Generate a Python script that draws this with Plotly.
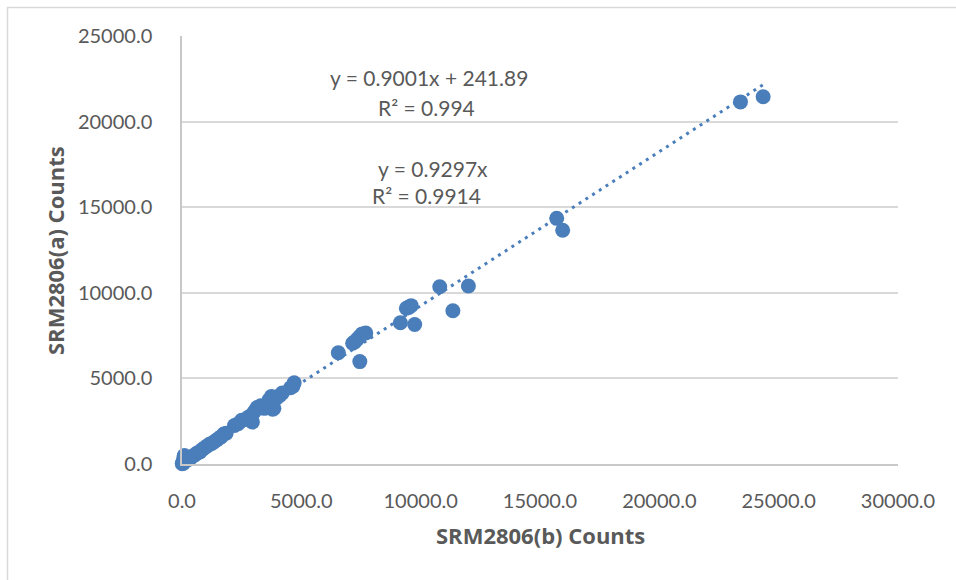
import plotly.graph_objects as go

# ---- data ----
x_counts = [24350, 23400, 15700, 15950, 10800, 12000, 11350, 9750, 9150, 9400, 9600, 9500,
            7550, 7450, 7350, 7250, 7150, 7700, 6550, 7450,
            4700, 4650, 4550, 4200, 4100, 3950, 3850, 3750, 3650, 3800, 3550, 3450, 3300, 3150,
            3050, 2950, 2950, 2800, 2650, 2500, 2350, 2200, 1850, 1750, 1650, 1550, 1450, 1350,
            1250, 1150, 1050, 950, 850, 750, 650, 550, 450, 350, 250, 150, 100, 60, 30, 10, 80]
y_counts = [21450, 21150, 14350, 13650, 10350, 10400, 8950, 8150, 8250, 9100, 9250, 9150,
            7600, 7450, 7300, 7150, 7050, 7650, 6500, 5980,
            4750, 4550, 4450, 4150, 4000, 3850, 3250, 3950, 3750, 3200, 3350, 3250, 3400, 3300,
            3100, 2900, 2450, 2750, 2600, 2550, 2350, 2250, 1800, 1750, 1600, 1500, 1400, 1300,
            1200, 1150, 1050, 950, 850, 700, 650, 550, 450, 350, 250, 200, 500, 50, 100, 20, 400]

fit_slope = 0.9001
fit_intercept = 241.89
eq_texts = ["y = 0.9001x + 241.89", "R² = 0.994", "y = 0.9297x", "R² = 0.9914"]
x_ticks = [0, 5000, 10000, 15000, 20000, 25000, 30000]
y_ticks = [0, 5000, 10000, 15000, 20000, 25000]
x_title = "SRM2806(b) Counts"
y_title = "SRM2806(a) Counts"

BLUE = "#4A7EBB"
GRAY_TXT = "#595959"
GRID = "#d9d9d9"
FONT = "Lato, Open Sans, sans-serif"
TITLE_FONT = "Open Sans, Lato, sans-serif"

fig = go.Figure()

x_line = [min(x_counts), max(x_counts)]
y_line = [fit_slope * v + fit_intercept for v in x_line]
fig.add_trace(go.Scatter(x=x_line, y=y_line, mode="lines",
                         line=dict(color=BLUE, width=3, dash="3px,5px"),
                         hoverinfo="skip", showlegend=False))

fig.add_trace(go.Scatter(x=x_counts, y=y_counts, mode="markers", cliponaxis=False,
                         marker=dict(color=BLUE, size=15, line=dict(width=0)),
                         showlegend=False))

W, H = 956, 580
L, R, T, B = 182, 898, 36, 464


def px2paper(px, py):
    return (px - L) / (R - L), (B - py) / (B - T)


annots = []
eq_pos = [(429, 78), (426, 107), (433, 168), (426, 195)]
for txt, (px, py) in zip(eq_texts, eq_pos):
    xp, yp = px2paper(px, py)
    annots.append(dict(x=xp, y=yp, xref="paper", yref="paper", text=txt, showarrow=False,
                       xanchor="center", yanchor="middle",
                       font=dict(family=FONT, size=21, color=GRAY_TXT)))

xp, yp = px2paper(540, 535)
annots.append(dict(x=xp, y=yp, xref="paper", yref="paper", text="<b>" + x_title + "</b>",
                   showarrow=False, xanchor="center", yanchor="middle",
                   font=dict(family=TITLE_FONT, size=22, color=GRAY_TXT)))
xp, yp = px2paper(55, 251)
annots.append(dict(x=xp, y=yp, xref="paper", yref="paper", text="<b>" + y_title + "</b>",
                   showarrow=False, xanchor="center", yanchor="middle", textangle=-90,
                   font=dict(family=TITLE_FONT, size=22, color=GRAY_TXT)))

# outer border (only left/top visible in the reference)
bx0, by0 = px2paper(7.5, 7.5)
bx1, by1 = px2paper(W + 10, H + 10)
shapes = [
    dict(type="rect", xref="paper", yref="paper", x0=bx0, y0=by0, x1=bx1, y1=by1,
         line=dict(color=GRID, width=1.5), fillcolor="rgba(0,0,0,0)", layer="below"),
]

fig.update_layout(
    width=W, height=H,
    margin=dict(l=L, r=W - R, t=T, b=H - B, pad=0),
    paper_bgcolor="white", plot_bgcolor="white",
    font=dict(family=FONT, size=20, color=GRAY_TXT),
    annotations=annots, shapes=shapes,
    xaxis=dict(range=[0, 30000], tickvals=x_ticks, tickformat=".1f",
               showgrid=False, zeroline=False, showline=True, linecolor="#c8c8c8", linewidth=1.5,
               ticks="", ticklabelstandoff=18,
               tickfont=dict(family=FONT, size=20, color=GRAY_TXT)),
    yaxis=dict(range=[0, 25000], tickvals=y_ticks, tickformat=".1f",
               showgrid=True, gridcolor=GRID, gridwidth=1.5,
               zeroline=False, showline=True, linecolor="#c8c8c8", linewidth=1.5,
               ticks="", ticklabelstandoff=24,
               tickfont=dict(family=FONT, size=20, color=GRAY_TXT)),
)

fig.write_html("out.html", config={"displayModeBar": False},
               post_script="document.body.style.margin='0';document.body.style.overflow='hidden';")
